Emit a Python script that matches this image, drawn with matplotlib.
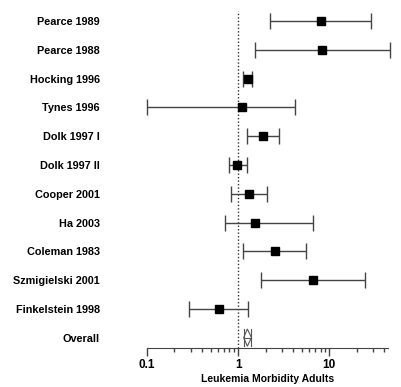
import numpy as np
import matplotlib.pyplot as plt

studies = ['Pearce 1989', 'Pearce 1988', 'Hocking 1996', 'Tynes 1996', 'Dolk 1997 I',
           'Dolk 1997 II', 'Cooper 2001', 'Ha 2003', 'Coleman 1983', 'Szmigielski 2001',
           'Finkelstein 1998']
est = [8.0, 8.4, 1.28, 1.11, 1.88, 0.98, 1.32, 1.53, 2.53, 6.67, 0.61]
lo = [2.25, 1.53, 1.13, 0.10, 1.25, 0.79, 0.83, 0.71, 1.13, 1.78, 0.29]
hi = [28.7, 46.0, 1.42, 4.17, 2.82, 1.25, 2.08, 6.67, 5.55, 24.5, 1.29]
overall = [1.26, 1.15, 1.40]  # estimate, lower, upper

plt.rcParams['font.family'] = ['Liberation Sans', 'DejaVu Sans']
plt.rcParams['font.weight'] = 'bold'

fig = plt.figure(figsize=(4.01, 3.87), dpi=100)
ax = fig.add_axes([0.3666, 0.1016, 0.601, 0.8855])

n = len(studies)
ypos = np.arange(n, 0, -1)
est = np.array(est)
err = np.array([est - np.array(lo), np.array(hi) - est])

ax.errorbar(est, ypos, xerr=err, fmt='s', color='black', ms=6, ecolor='#444444',
            elinewidth=1.0, capsize=6, capthick=1.0, clip_on=False, zorder=3)

# overall diamond
m, l, h = overall
ax.fill([l, m, h, m], [0, 0.3, 0, -0.3], facecolor='white', edgecolor='#555555', lw=0.8, zorder=3)
ax.plot([l, h], [0, 0], color='#555555', lw=0.8, zorder=3)
ax.plot([l, l], [-0.3, 0.3], color='#555555', lw=0.8, zorder=3)
ax.plot([h, h], [-0.3, 0.3], color='#555555', lw=0.8, zorder=3)

ax.plot([1, 1], [-0.35, 11.35], color='#333333', lw=1.0, ls=(0, (1, 1.5)), zorder=1)

ax.set_xscale('log')
ax.set_xlim(0.1, 44)
ax.set_ylim(-0.35, 11.56)

ax.set_yticks(list(ypos) + [0])
ax.set_yticklabels(studies + ['Overall'], fontsize=7.8, fontweight='bold')
ax.tick_params(axis='y', length=0, pad=34)

ax.set_xticks([0.1, 1, 10])
ax.set_xticklabels(['0.1', '1', '10'], fontsize=8.5, fontweight='bold')
ax.tick_params(axis='x', which='major', length=6, width=1, direction='out', color='#444444', pad=2)
ax.tick_params(axis='x', which='minor', length=3, width=1, direction='out', color='#444444')
ax.set_xlabel('Leukemia Morbidity Adults', fontsize=7.5, fontweight='bold', labelpad=2)

for s in ['top', 'right', 'left']:
    ax.spines[s].set_visible(False)
ax.spines['bottom'].set_color('#444444')

fig.savefig('out.png', dpi=100)
